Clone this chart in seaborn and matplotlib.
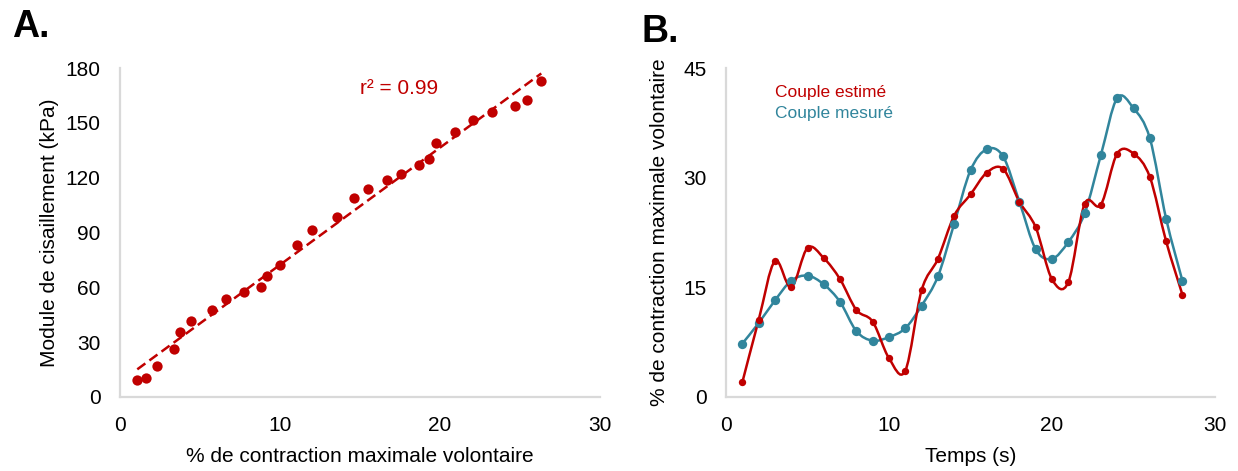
import numpy as np
import pandas as pd
import matplotlib
matplotlib.use("Agg")
import matplotlib.pyplot as plt
from matplotlib.path import Path
from matplotlib.patches import PathPatch
import seaborn as sns

# Panel A: shear modulus vs % MVC
mvc_pct = [1.08, 1.6, 2.33, 3.4, 3.77, 4.42, 5.73, 6.63, 7.73, 8.79, 9.19, 10.02,
           11.04, 12.0, 13.58, 14.63, 15.52, 16.69, 17.56, 18.67, 19.29, 19.77,
           20.94, 22.08, 23.27, 24.67, 25.46, 26.33]
shear_kpa = [9.3, 10.2, 17.1, 26.3, 35.4, 41.7, 47.6, 53.4, 57.2, 60.3, 66.4, 72.2,
             83.2, 91.4, 98.6, 109.0, 113.8, 118.7, 121.8, 127.2, 130.4, 138.7,
             145.1, 151.8, 156.1, 159.2, 162.5, 172.9]

# Panel B: estimated vs measured torque over time
time_s = list(range(1, 29))
couple_estime = [2.0, 10.5, 18.6, 15.0, 20.4, 19.0, 16.1, 11.9, 10.3, 5.3, 3.6, 14.6,
                 18.9, 24.8, 27.7, 30.7, 31.2, 26.7, 23.2, 16.1, 15.7, 26.4, 26.3,
                 33.3, 33.3, 30.1, 21.3, 14.0]
couple_mesure = [7.3, 10.1, 13.2, 15.9, 16.6, 15.4, 13.0, 9.0, 7.7, 8.2, 9.4, 12.5,
                 16.5, 23.7, 31.0, 33.9, 32.9, 26.7, 20.2, 18.9, 21.2, 25.1, 33.1,
                 40.9, 39.5, 35.4, 24.4, 15.9]

RED = "#C00000"
BLUE = "#31859C"
SPINE = "#d9d9d9"
INK = "#000000"


def smooth_path(x, y):
    # Excel-like smoothed line: cubic Bezier segments through the data points
    x = np.asarray(x, float)
    y = np.asarray(y, float)
    pts = np.column_stack([x, y])
    ext = np.vstack([pts[0], pts, pts[-1]])
    verts = [pts[0]]
    codes = [Path.MOVETO]
    for i in range(len(pts) - 1):
        p0, p1, p2, p3 = ext[i], ext[i + 1], ext[i + 2], ext[i + 3]
        c1 = p1 + (p2 - p0) / 6.0
        c2 = p2 - (p3 - p1) / 6.0
        verts += [c1, c2, p2]
        codes += [Path.CURVE4] * 3
    return Path(verts, codes)


def style_axis(ax):
    sns.despine(ax=ax)
    for side in ["left", "bottom"]:
        ax.spines[side].set_color(SPINE)
        ax.spines[side].set_linewidth(1.6)
    ax.tick_params(length=0, labelsize=15, colors=INK)
    ax.tick_params(axis="x", pad=14)
    ax.tick_params(axis="y", pad=14)
    ax.xaxis.label.set_color(INK)
    ax.yaxis.label.set_color(INK)
    ax.grid(False)


sns.set_style("white")
plt.rcParams["font.family"] = ["Liberation Sans", "DejaVu Sans"]

fig = plt.figure(figsize=(12.38, 4.71), dpi=100)
axA = fig.add_axes([120 / 1238, 74 / 471, 480 / 1238, 329 / 471])
axB = fig.add_axes([726 / 1238, 74 / 471, 489 / 1238, 329 / 471])

# ---- Panel A
dfA = pd.DataFrame({"mvc": mvc_pct, "shear": shear_kpa})
sns.regplot(data=dfA, x="mvc", y="shear", ax=axA, ci=None, color=RED,
            scatter_kws=dict(s=55, linewidths=0, alpha=1),
            line_kws=dict(ls="--", lw=1.8, dashes=(4, 2)))
r2 = np.corrcoef(mvc_pct, shear_kpa)[0, 1] ** 2
axA.text(15.0, 169, f"r² = {r2:.2f}", color=RED, fontsize=15, va="center")
axA.set_xlim(0, 30)
axA.set_ylim(0, 180)
axA.set_xticks([0, 10, 20, 30])
axA.set_yticks(range(0, 181, 30))
axA.set_xlabel("% de contraction maximale volontaire", fontsize=15, labelpad=8)
axA.set_ylabel("Module de cisaillement (kPa)", fontsize=15, labelpad=5)
style_axis(axA)

# ---- Panel B
dfB = pd.DataFrame({"t": time_s + time_s,
                    "val": couple_estime + couple_mesure,
                    "serie": ["Couple estimé"] * len(time_s) + ["Couple mesuré"] * len(time_s)})
for name, col, size in [("Couple mesuré", BLUE, 45), ("Couple estimé", RED, 28)]:
    sub = dfB[dfB["serie"] == name]
    axB.add_patch(PathPatch(smooth_path(sub["t"], sub["val"]), fill=False,
                            edgecolor=col, lw=1.8, zorder=2))
    sns.scatterplot(data=sub, x="t", y="val", ax=axB, color=col, s=size,
                    linewidth=0, zorder=3, legend=False)
axB.text(0.1, 0.913, "Couple estimé", transform=axB.transAxes, color=RED, fontsize=12.5)
axB.text(0.1, 0.849, "Couple mesuré", transform=axB.transAxes, color=BLUE, fontsize=12.5)
axB.set_xlim(0, 30)
axB.set_ylim(0, 45)
axB.set_xticks([0, 10, 20, 30])
axB.set_yticks([0, 15, 30, 45])
axB.set_xlabel("Temps (s)", fontsize=15, labelpad=8)
axB.set_ylabel("% de contraction maximale volontaire", fontsize=15, labelpad=10)
style_axis(axB)

fig.text(12 / 1238, 1 - 37 / 471, "A.", fontsize=27, fontweight="bold", color=INK)
fig.text(641 / 1238, 1 - 42 / 471, "B.", fontsize=27, fontweight="bold", color=INK)

fig.savefig("out.png", dpi=100)
